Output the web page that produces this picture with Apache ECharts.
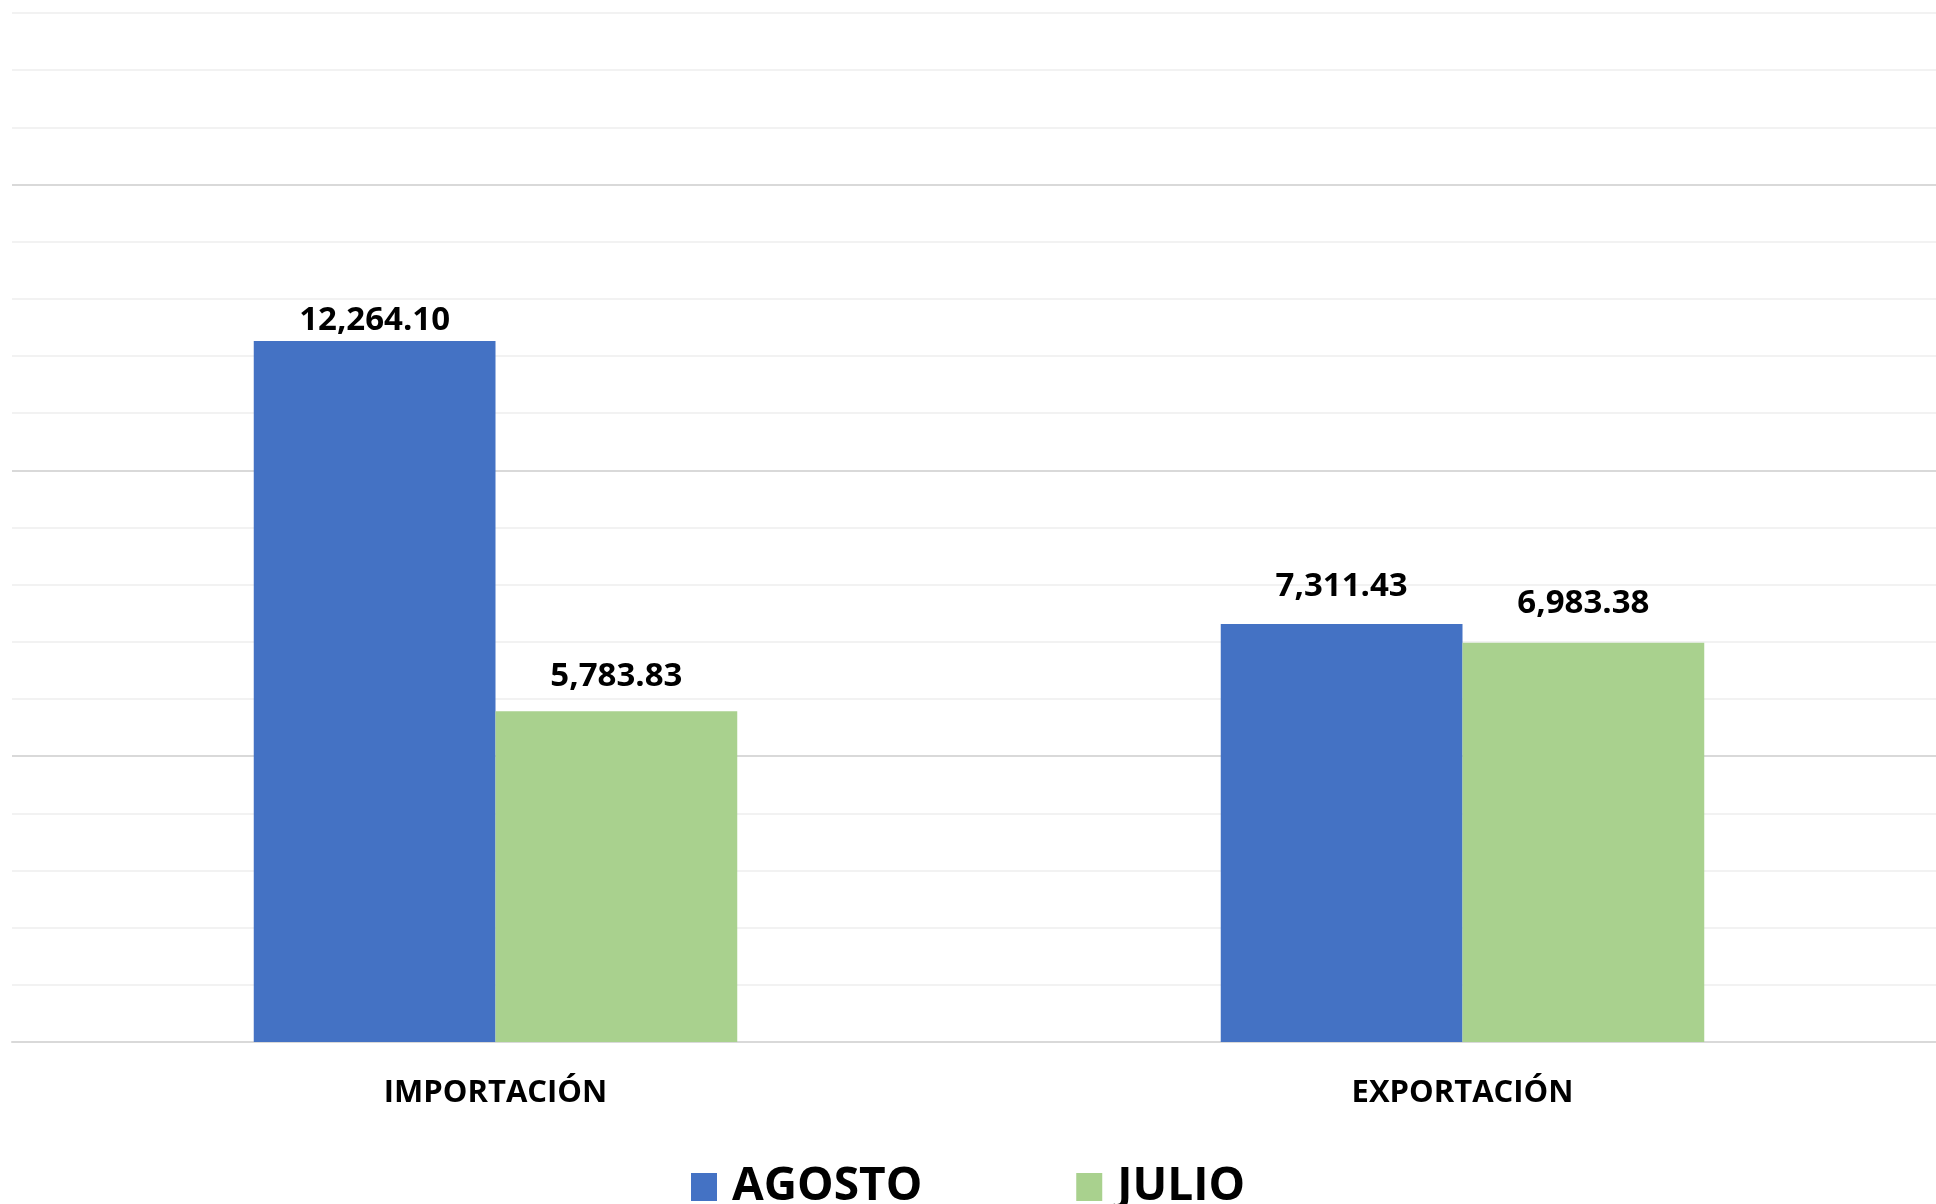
<!DOCTYPE html>
<html>
<head>
<meta charset="utf-8">
<script src="https://cdn.jsdelivr.net/npm/echarts@6/dist/echarts.min.js"></script>
<style>
  html, body { margin: 0; padding: 0; background: #fff; }
  #chart { width: 1936px; height: 1204px; }
</style>
</head>
<body>
<div id="chart"></div>
<script>
const categories = ['IMPORTACIÓN', 'EXPORTACIÓN']
const agosto = [12264.10, 7311.43]
const julio = [5783.83, 6983.38]
const seriesNames = ['AGOSTO', 'JULIO']

const chart = echarts.init(document.getElementById('chart'))

const fmt = v => v.toLocaleString('en-US', { minimumFractionDigits: 2, maximumFractionDigits: 2 })

// the labels in the original sit at slightly different heights above their bars
const labelGap = { AGOSTO: [4, 21], JULIO: [18, 23] }

const labelStyle = {
  show: true,
  position: 'top',
  fontFamily: 'Open Sans',
  fontWeight: 'bold',
  fontSize: 33,
  color: '#000',
  formatter: p => fmt(p.value)
}

const withLabels = (name, values) => values.map((v, i) => ({
  value: v,
  label: { distance: labelGap[name][i] }
}))

const option = {
  animation: false,
  grid: { left: 12, right: -10, top: 13, bottom: 162, outerBoundsMode: 'none' },
  legend: {
    left: 686,
    top: 1159,
    itemWidth: 26,
    itemHeight: 28,
    itemGap: 154,
    icon: 'rect',
    textStyle: {
      fontFamily: 'Open Sans',
      fontWeight: 'bold',
      fontSize: 46,
      color: '#000',
      padding: [0, 0, 0, 10]
    },
    data: seriesNames
  },
  xAxis: {
    type: 'category',
    data: categories,
    axisLine: { lineStyle: { color: '#d9d9d9', width: 2 } },
    axisTick: { show: false },
    axisLabel: {
      margin: 36,
      fontFamily: 'Open Sans',
      fontWeight: 'bold',
      fontSize: 31,
      color: '#000'
    }
  },
  yAxis: {
    type: 'value',
    min: 0,
    max: 18000,
    interval: 1000,
    axisLabel: { show: false },
    axisLine: { show: false },
    axisTick: { show: false },
    splitLine: {
      lineStyle: {
        width: 2,
        color: ['#d9d9d9', '#f2f2f2', '#f2f2f2', '#f2f2f2', '#f2f2f2']
      }
    }
  },
  series: [
    {
      name: seriesNames[0],
      type: 'bar',
      data: withLabels(seriesNames[0], agosto),
      barGap: '0%',
      barCategoryGap: '50%',
      itemStyle: { color: '#4472c4' },
      label: labelStyle
    },
    {
      name: seriesNames[1],
      type: 'bar',
      data: withLabels(seriesNames[1], julio),
      itemStyle: { color: '#a9d18e' },
      label: labelStyle
    }
  ]
}

chart.setOption(option)
window.addEventListener('resize', function () {
  chart.resize()
})
</script>
</body>
</html>
